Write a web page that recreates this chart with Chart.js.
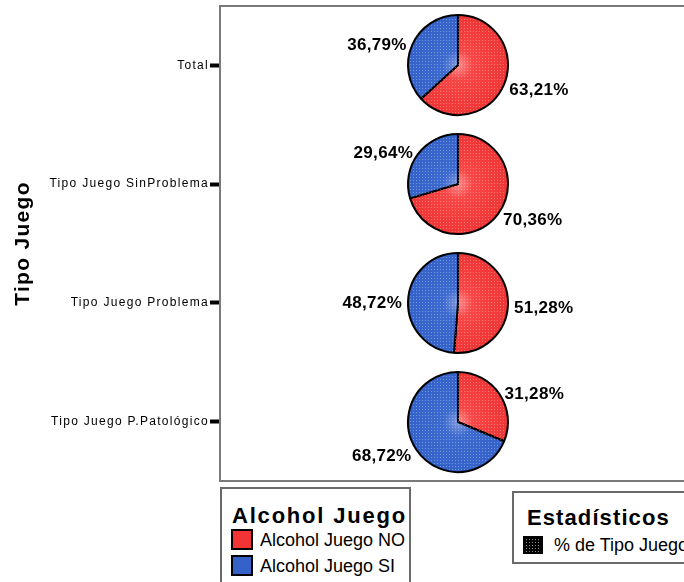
<!DOCTYPE html>
<html>
<head>
<meta charset="utf-8">
<script src="https://cdn.jsdelivr.net/npm/chart.js@4.4.1/dist/chart.umd.min.js"></script>
<style>
  html, body { margin: 0; padding: 0; background: #fff; overflow: hidden; }
  #wrap { position: relative; width: 700px; height: 582px; font-family: 'Liberation Sans', Arial, sans-serif; }
  #main { position: absolute; left: 0; top: 0; }
  .pie { position: absolute; }
  .legend-box { position: absolute; border: 2px solid #6a6a6a; background: #fff; box-sizing: border-box; }
  .legend-title { position: absolute; font-weight: bold; font-size: 22px; line-height: 22px; color: #000; white-space: nowrap; }
  .legend-item { position: absolute; font-size: 18px; line-height: 20px; color: #000; white-space: nowrap; }
  .swatch { position: absolute; box-sizing: border-box; border: 2px solid #000; }
</style>
</head>
<body>
<div id="wrap">
  <canvas id="main" width="700" height="582"></canvas>
</div>
<script>
// Categories on the vertical axis and the share of each answer within them (%)
const categories = ['Total', 'Tipo Juego SinProblema', 'Tipo Juego Problema', 'Tipo Juego P.Patológico'];
const alcoholNo = [63.21, 70.36, 51.28, 31.28];
const alcoholSi = [36.79, 29.64, 48.72, 68.72];
const seriesNames = ['Alcohol Juego NO', 'Alcohol Juego SI'];
const axisTitle = 'Tipo Juego';
const legendTitle = 'Alcohol Juego';
const statsTitle = 'Estadísticos';
const statsItem = '% de Tipo Juego';

const FONT = "'Liberation Sans', Arial, sans-serif";
const sliceColors = [
  { edge: '#f03434', mid: '#f84646', center: '#ff8c8c', swatch: '#f23434' },
  { edge: '#3462c8', mid: '#3d6ace', center: '#8099dc', swatch: '#3462c8' }
];

// Frame: left, top and bottom border of the plot area
const frameBorder = {
  id: 'frameBorder',
  beforeDraw(chart) {
    chart.ctx.letterSpacing = '1.3px';
  },
  afterDraw(chart) {
    const { ctx, chartArea: a } = chart;
    ctx.save();
    ctx.strokeStyle = '#7a7a7a';
    ctx.lineWidth = 2;
    ctx.beginPath();
    ctx.moveTo(a.left, a.top);
    ctx.lineTo(a.right + 10, a.top);
    ctx.moveTo(a.left, a.bottom);
    ctx.lineTo(a.right + 10, a.bottom);
    ctx.stroke();
    ctx.restore();
  }
};

const main = new Chart(document.getElementById('main'), {
  type: 'bar',
  data: { labels: categories, datasets: [] },
  options: {
    responsive: false,
    animation: false,
    indexAxis: 'y',
    layout: { padding: { top: 6, bottom: 101, right: 4, left: 0 } },
    plugins: { legend: { display: false }, tooltip: { enabled: false } },
    scales: {
      x: { type: 'linear', display: false, min: 0, max: 1 },
      y: {
        type: 'category',
        offset: true,
        grid: { display: true, drawOnChartArea: false, offset: false, tickLength: 10, tickWidth: 4, tickColor: '#000' },
        border: { display: true, color: '#7a7a7a', width: 2 },
        ticks: { color: '#000', padding: 1, font: { family: FONT, size: 12 } },
        title: { display: true, text: axisTitle, color: '#000', padding: { top: 11, bottom: 0 }, font: { family: FONT, size: 21, weight: 'bold' } },
        afterFit(scale) {
          scale.width = 220;
          scale.paddingTop = 0;
          scale.paddingBottom = 0;
        }
      }
    }
  },
  plugins: [frameBorder]
});

// Fine light speckle laid over each slice
function speckle(ctx) {
  const t = document.createElement('canvas');
  t.width = 3; t.height = 3;
  const c = t.getContext('2d');
  c.fillStyle = 'rgba(255,255,255,0.32)';
  c.fillRect(1, 1, 1, 1);
  return ctx.createPattern(t, 'repeat');
}

// Percent labels placed outside each slice, along its middle angle
const sliceLabels = {
  id: 'sliceLabels',
  afterDatasetsDraw(chart) {
    const { ctx } = chart;
    const meta = chart.getDatasetMeta(0);
    const values = chart.data.datasets[0].data;
    const pat = speckle(ctx);
    ctx.save();
    meta.data.forEach((arc) => {
      const p = arc.getProps(['x', 'y', 'startAngle', 'endAngle', 'outerRadius'], true);
      ctx.save();
      ctx.beginPath();
      ctx.moveTo(p.x, p.y);
      ctx.arc(p.x, p.y, p.outerRadius - 1.5, p.startAngle, p.endAngle);
      ctx.closePath();
      ctx.clip();
      ctx.fillStyle = pat;
      ctx.fillRect(p.x - p.outerRadius, p.y - p.outerRadius, p.outerRadius * 2, p.outerRadius * 2);
      ctx.restore();
    });
    ctx.letterSpacing = '0.3px';
    ctx.font = 'bold 17px ' + FONT;
    ctx.fillStyle = '#000';
    ctx.textBaseline = 'middle';
    meta.data.forEach((arc, i) => {
      const p = arc.getProps(['x', 'y', 'startAngle', 'endAngle', 'outerRadius'], true);
      const mid = (p.startAngle + p.endAngle) / 2;
      const r = p.outerRadius + 6;
      const tx = p.x + Math.cos(mid) * r;
      const ty = p.y + Math.sin(mid) * r + 3;
      ctx.textAlign = Math.cos(mid) >= 0 ? 'left' : 'right';
      ctx.fillText(values[i].toFixed(2).replace('.', ',') + '%', tx, ty);
    });
    ctx.restore();
  }
};

function sliceFill(context) {
  const c = sliceColors[context.dataIndex];
  const chart = context.chart;
  const a = chart.chartArea;
  if (!a) return c.edge;
  const cx = (a.left + a.right) / 2, cy = (a.top + a.bottom) / 2;
  const g = chart.ctx.createRadialGradient(cx, cy, 0, cx, cy, 50);
  g.addColorStop(0, c.center);
  g.addColorStop(0.3, c.mid);
  g.addColorStop(1, c.edge);
  return g;
}

// One pie per category, centred on the category's position of the axis
const wrap = document.getElementById('wrap');
const area = main.chartArea;
const yScale = main.scales.y;
const pieW = 260, pieH = 118;
const centerX = (area.left + area.right) / 2;
categories.forEach((cat, i) => {
  const cy = yScale.getPixelForValue(i);
  const cv = document.createElement('canvas');
  cv.className = 'pie';
  cv.width = pieW; cv.height = pieH;
  cv.style.left = (centerX - pieW / 2) + 'px';
  cv.style.top = (cy - pieH / 2) + 'px';
  wrap.appendChild(cv);
  new Chart(cv, {
    type: 'pie',
    data: {
      labels: seriesNames,
      datasets: [{
        data: [alcoholNo[i], alcoholSi[i]],
        radius: 50,
        backgroundColor: sliceFill,
        borderColor: '#000',
        borderWidth: 2
      }]
    },
    options: {
      responsive: false,
      animation: false,
      layout: { padding: 0 },
      plugins: { legend: { display: false }, tooltip: { enabled: false } }
    },
    plugins: [sliceLabels]
  });
});

// Legend boxes below the plot
function addBox(left, top, width, height) {
  const d = document.createElement('div');
  d.className = 'legend-box';
  Object.assign(d.style, { left: left + 'px', top: top + 'px', width: width + 'px', height: height + 'px' });
  wrap.appendChild(d);
}
function addText(cls, text, left, top, spacing) {
  const d = document.createElement('div');
  d.className = cls;
  d.textContent = text;
  Object.assign(d.style, { left: left + 'px', top: top + 'px' });
  if (spacing) d.style.letterSpacing = spacing;
  wrap.appendChild(d);
}
function addSwatch(left, top, w, h, bg) {
  const d = document.createElement('div');
  d.className = 'swatch';
  Object.assign(d.style, { left: left + 'px', top: top + 'px', width: w + 'px', height: h + 'px' });
  d.style.background = bg;
  wrap.appendChild(d);
}

addBox(220, 487, 191, 110);
addText('legend-title', legendTitle, 232, 505, '1.8px');
seriesNames.forEach((name, i) => {
  addSwatch(231, 529 + i * 26, 22, 21, sliceColors[i].swatch);
  addText('legend-item', name, 260, 530 + i * 26);
});

addBox(512, 491, 200, 73);
addText('legend-title', statsTitle, 527, 507, '1.1px');
addSwatch(523, 536, 20, 18, 'radial-gradient(circle, #8a8a8a 0.7px, transparent 0.9px) 0 0 / 3px 3px, #000');
addText('legend-item', statsItem, 554, 535);
</script>
</body>
</html>
